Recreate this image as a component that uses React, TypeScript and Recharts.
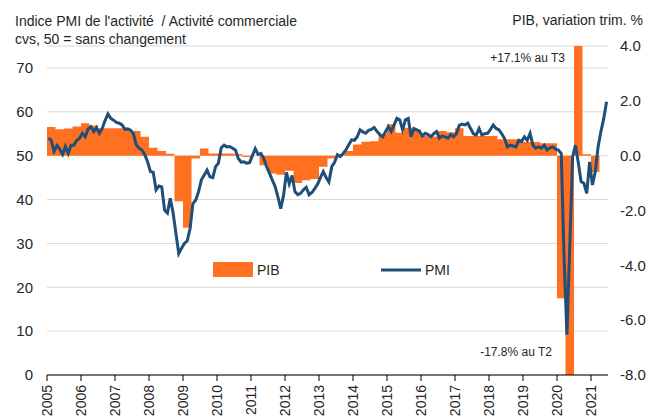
import React from "react"
import { ComposedChart, Area, Line, XAxis, YAxis, CartesianGrid } from "recharts"

// PMI activité (composite), mensuel, janv. 2005 -> juin 2021
const pmiValues = [
  54.0, 53.5, 51.0, 52.3, 51.5, 50.3, 52.1, 50.5, 52.4, 52.4, 53.5, 54.0,
  55.1, 54.3, 56.1, 56.6, 55.5, 56.4, 55.1, 56.2, 58.0, 59.5, 58.5, 58.1,
  57.6, 57.4, 57.0, 56.0, 56.1, 55.8, 55.0, 52.5, 51.7, 51.3, 50.2, 48.6,
  46.4, 46.2, 42.2, 43.1, 42.9, 37.6, 36.9, 40.3, 37.0, 32.3, 27.7, 28.9,
  30.0, 30.6, 33.4, 39.1, 39.9, 41.8, 44.5, 45.6, 46.7, 45.2, 45.0, 47.5,
  48.3, 51.8, 52.4, 52.0, 52.1, 51.7, 51.3, 49.4, 48.5, 48.6, 48.3, 48.4,
  50.0, 51.6, 50.3, 50.5, 49.4, 47.5, 46.0, 44.5, 43.0, 40.6, 37.9, 41.0,
  46.2, 43.6, 45.5, 41.8, 41.1, 41.4, 42.2, 42.8, 41.1, 41.6, 42.5, 43.5,
  45.0, 46.4, 45.0, 44.0, 47.5, 48.5, 50.2, 49.8, 50.5, 51.3, 52.5, 53.6,
  53.5, 54.3, 55.9, 55.4, 55.1, 55.8, 56.0, 56.4, 55.5, 54.8, 54.3, 55.5,
  56.6, 55.5, 57.0, 58.5, 58.2, 55.9, 58.2, 58.5, 54.3, 56.2, 55.9, 55.5,
  54.5, 55.1, 54.8, 54.3, 55.0, 55.5, 54.0, 54.5, 54.3, 54.0, 54.8, 54.3,
  55.0, 56.9, 57.2, 57.0, 57.4, 56.2, 55.0, 54.7, 56.2, 54.7, 55.0, 55.1,
  56.0, 57.0, 56.2, 55.9, 55.0, 53.9, 52.0, 52.4, 52.2, 52.0, 53.5, 53.2,
  54.3, 53.5, 55.1, 52.4, 51.7, 52.0, 51.7, 52.4, 51.3, 51.8, 52.0, 51.5,
  51.3, 50.5, 26.7, 9.2, 29.2, 49.7, 52.4, 48.5, 44.1, 43.7, 41.4, 48.6,
  43.3, 46.3, 52.0, 55.5, 58.5, 62.3,
]

// PIB, variation trimestrielle en %, T1 2005 -> T1 2021
const pibValues = [
  1.05, 0.96, 0.99, 1.06,
  1.18, 1.1, 1.0, 1.0,
  1.0, 0.96, 0.9, 0.69,
  0.29, 0.17, 0.07, -1.66,
  -2.63, -0.1, 0.26, 0.08,
  0.08, 0.08, 0.05, -0.05,
  0.0, -0.35, -0.65, -0.7,
  -0.55, -1.0, -0.9, -0.85,
  -0.4, -0.1, 0.05, 0.17,
  0.41, 0.51, 0.53, 0.78,
  1.15, 0.84, 1.02, 0.96,
  0.72, 0.7, 0.9, 0.85,
  1.0, 0.72, 0.72, 0.72,
  0.72, 0.6, 0.6, 0.6,
  0.5, 0.5, 0.45, 0.45,
  -5.2, -17.8, 17.1, 0.05,
  -0.6,
]

const years = [2005, 2006, 2007, 2008, 2009, 2010, 2011, 2012, 2013, 2014, 2015, 2016, 2017, 2018, 2019, 2020, 2021]
const leftTicks = [0, 10, 20, 30, 40, 50, 60, 70]
const rightTicks = [-8, -6, -4, -2, 0, 2, 4]

// t = mois depuis janv. 2005
const pmiData = pmiValues.map((v, i) => ({ t: i + 0.5, pmi: v }))
const pibData = [
  ...pibValues.map((v, q) => ({ t: q * 3, pib: v })),
  { t: pibValues.length * 3, pib: pibValues[pibValues.length - 1] },
]
const yearTicks = years.map((y) => (y - 2005) * 12)

const FONT = "'Liberation Sans', Arial, sans-serif"
const ORANGE = "#FF7021"
const BLUE = "#1F4E79"
const INK = "#262626"

// libellés d'années verticaux, sous l'axe
const YearTick = (props: any) => {
  const { x, payload } = props
  const ty = 385
  return (
    <text
      x={x}
      y={ty}
      transform={`rotate(-90 ${x} ${ty})`}
      textAnchor="end"
      dominantBaseline="central"
      fontSize={14}
      fill={INK}
    >
      {2005 + payload.value / 12}
    </text>
  )
}

export default function App() {
  return (
    <div style={{ position: "absolute", left: 0, top: 0, width: 662, height: 418, background: "#fff", fontFamily: FONT }}>
      <ComposedChart width={662} height={418} margin={{ top: 46, right: 0, bottom: 0, left: 0 }}>
        <CartesianGrid yAxisId="left" vertical={false} stroke="#D9D9D9" />
        <XAxis
          dataKey="t"
          type="number"
          domain={[0, 198]}
          ticks={yearTicks}
          allowDataOverflow
          height={43}
          stroke="#000"
          tickSize={6}
          tick={<YearTick />}
          interval={0}
        />
        <YAxis
          yAxisId="left"
          domain={[0, 75]}
          ticks={leftTicks}
          width={47}
          axisLine={false}
          tickLine={false}
          tickMargin={8}
          tick={{ fill: INK, fontSize: 15 }}
        />
        <YAxis
          yAxisId="right"
          orientation="right"
          domain={[-8, 4]}
          ticks={rightTicks}
          allowDataOverflow
          width={54}
          axisLine={false}
          tickLine={false}
          tickMargin={6}
          tick={{ fill: INK, fontSize: 15, textAnchor: "start" }}
          tickFormatter={(v: number) => v.toFixed(1)}
        />
        <Area
          yAxisId="right"
          data={pibData}
          dataKey="pib"
          type="stepAfter"
          baseValue={0}
          fill={ORANGE}
          fillOpacity={1}
          stroke="none"
          isAnimationActive={false}
        />
        <Line
          yAxisId="left"
          data={pmiData}
          dataKey="pmi"
          type="linear"
          stroke={BLUE}
          strokeWidth={3}
          dot={false}
          isAnimationActive={false}
        />
      </ComposedChart>
      <svg width={662} height={418} style={{ position: "absolute", left: 0, top: 0, pointerEvents: "none" }}>
        <text x={15} y={26} fontSize={14} fill={INK} style={{ whiteSpace: "pre" }}>Indice PMI de l'activité  / Activité commerciale</text>
        <text x={15} y={44} fontSize={14} fill={INK}>cvs, 50 = sans changement</text>
        <text x={643} y={25} fontSize={14} fill={INK} textAnchor="end">PIB, variation trim. %</text>
        <text x={565} y={62} fontSize={12} fill={INK} textAnchor="end">+17.1% au T3</text>
        <text x={552} y={356} fontSize={12} fill={INK} textAnchor="end">-17.8% au T2</text>
        <rect x={213} y={262} width={40} height={15} fill={ORANGE} />
        <text x={257} y={275} fontSize={14} fill={INK}>PIB</text>
        <line x1={381} y1={270} x2={421} y2={270} stroke={BLUE} strokeWidth={3} />
        <text x={425} y={275} fontSize={14} fill={INK}>PMI</text>
      </svg>
    </div>
  )
}
